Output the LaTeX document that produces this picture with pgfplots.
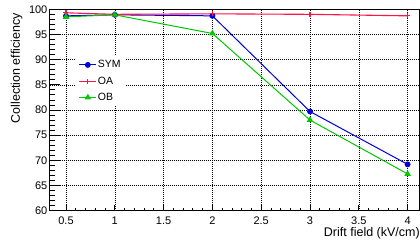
\documentclass[border=0pt]{standalone}
\usepackage{pgfplots}
\pgfplotsset{compat=1.18}
\usepackage{fontspec}
\setmainfont{Liberation Sans}
\definecolor{cblue}{RGB}{0,0,220}
\definecolor{oared}{RGB}{255,20,70}
\definecolor{cgreen}{RGB}{0,200,0}
\begin{document}
\begin{tikzpicture}
\begin{axis}[
  name=ax,
  scale only axis,
  width=370.5pt, height=201.4pt,
  xmin=0.331, xmax=4.127,
  ymin=60, ymax=100,
  xtick={0.5,1,1.5,2,2.5,3,3.5,4},
  ytick={60,65,70,75,80,85,90,95,100},
  minor x tick num=4,
  minor y tick num=4,
  tick align=inside,
  tick pos=left,
  axis line style={line width=1.2pt},
  every tick/.style={black, line width=0.8pt},
  xtick style={/pgfplots/major tick length=6pt, /pgfplots/minor tick length=3pt},
  ytick style={/pgfplots/major tick length=10.5pt, /pgfplots/minor tick length=5.5pt},
  grid=major,
  major grid style={black, line width=0.5pt, dash pattern=on 1pt off 1pt},
  /pgf/number format/assume math mode=true,
  ticklabel style={font=\fontsize{11}{13}\selectfont},
  xticklabel style={yshift=-2.4pt},
  yticklabel style={xshift=1.4pt},
  legend style={at={(rel axis cs:0,1)}, anchor=north west, xshift=26pt, yshift=-47pt,
    draw=none, fill=white, font=\fontsize{10.5}{12}\selectfont, row sep=5.5pt, inner sep=3pt,
    nodes={inner sep=1pt}},
  legend cell align=left,
]
\addplot[color=cblue, line width=1pt, mark=*, mark size=2.4pt] coordinates {
  (0.5,98.7) (1,98.9) (2,98.7) (3,79.7) (4,69.2)};
\addlegendentry{SYM}
\addplot[color=oared, line width=1.1pt, mark=+, mark size=2.5pt,
  legend image code/.code={\draw[oared, line width=1.2pt] (0cm,0cm) -- (0.6cm,0cm);
    \draw[oared, line width=1pt] (0.3cm,-2.5pt) -- (0.3cm,2.5pt);}] coordinates {
  (0.5,99.3) (1,99.0) (2,99.1) (3,99.0) (4,98.7)};
\addlegendentry{OA}
\addplot[color=cgreen, line width=1pt, mark=triangle*, mark size=2.8pt] coordinates {
  (0.5,98.5) (1,98.9) (2,95.2) (3,78.0) (4,67.3)};
\addlegendentry{OB}
\end{axis}
\node[anchor=north east, inner sep=0pt, font=\fontsize{12.5}{14}\selectfont] at ([yshift=-16.5pt]ax.south east) {Drift field (kV/cm)};
\node[rotate=90, anchor=base east, inner sep=0pt, font=\fontsize{12.5}{14}\selectfont] at ([xshift=-29.5pt,yshift=-3.7pt]ax.north west) {Collection efficiency};
\pgfresetboundingbox
\path[use as bounding box] ([xshift=-49.5pt,yshift=-32.3pt]ax.south west) rectangle ([yshift=9.3pt]ax.north east);
\end{tikzpicture}
\end{document}
